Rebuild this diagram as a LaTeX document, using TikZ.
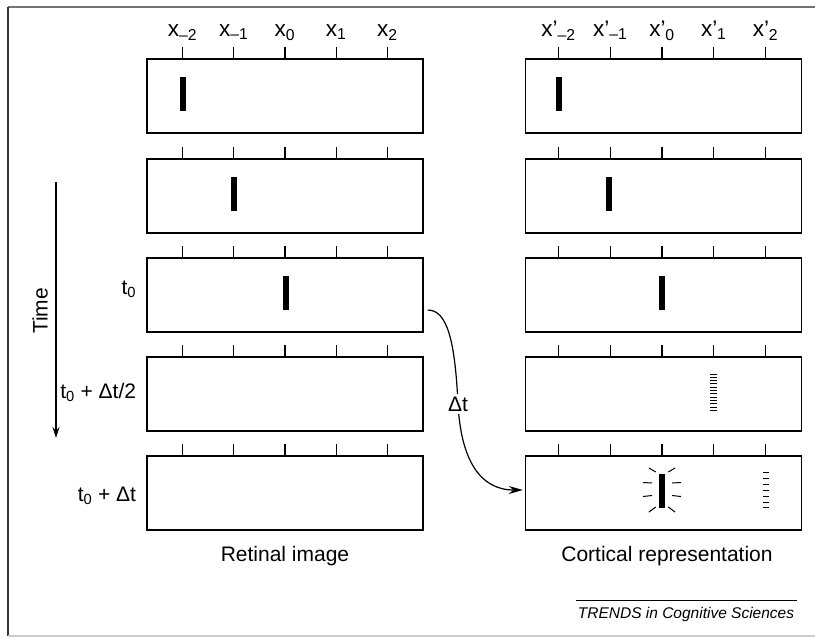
\documentclass[tikz,border=0pt]{standalone}
\usepackage{fontspec}
\setmainfont{Liberation Sans}
\usetikzlibrary{arrows.meta, calc}

\begin{document}
\begin{tikzpicture}[x=1pt, y=-1pt,
    panel/.style={draw, line width=1.4pt, minimum width=276pt,
                  minimum height=74pt, inner sep=0pt},
    tickmark/.style={line width=1.2pt},
    stim/.style={fill=black, minimum width=6pt, minimum height=34pt, inner sep=0pt},
    faint/.style={line width=1pt},
    lbl/.style={font=\fontsize{21}{25}\selectfont, inner sep=1pt},
    poslbl/.style={font=\fontsize{22.5}{26}\selectfont, inner sep=1pt, anchor=base}
  ]
    \useasboundingbox (0,0) rectangle (815,638);
    \draw[line width=1.3pt, black!55] (815,7) -- (8,7);
    \draw[line width=1.3pt, black!80] (8,7) -- (8,636);
    \draw[line width=1.3pt, black!20] (8,636) -- (815,636);

    % panels with their ticks
    \foreach \k/\y in {1/96, 2/196, 3/295, 4/394, 5/493} {
      \node[panel] (L\k) at (285,\y) {};
      \node[panel] (R\k) at (663.5,\y) {};
      \foreach \i in {-2,...,2} {
        \draw[tickmark] ($(L\k.north)+(\i*51.25,0)$) -- ++(0,-11);
        \draw[tickmark] ($(R\k.north)+(\i*51.75-1.5,0)$) -- ++(0,-11);
      }
    }

    % position labels
    \foreach \i/\s [count=\n] in {-2/--2, -1/--1, 0/0, 1/1, 2/2} {
      \node[poslbl] (lx\n) at ($(L1.north)+(\i*51.25,-22)$) {x\textsubscript{\s}};
      \node[poslbl] (rx\n) at ($(R1.north)+(\i*51.75-1.5,-22)$) {x'\textsubscript{\s}};
    }

    % stimulus bars
    \node[stim] (s1) at ($(L1.center)+(-102,-2)$) {};
    \node[stim] (s2) at ($(L2.center)+(-51,-2)$) {};
    \node[stim] (s3) at ($(L3.center)+(0.5,-2)$) {};
    \node[stim] (s4) at ($(R1.center)+(-104.5,-2)$) {};
    \node[stim] (s5) at ($(R2.center)+(-54.5,-2)$) {};
    \node[stim] (s6) at ($(R3.center)+(-1.5,-2)$) {};
    \node[stim] (s7) at ($(R5.center)+(-1.5,-2)$) {};

    % fading traces
    \foreach \j in {0,...,11}
      \draw[faint] ($(R4.center)+(46.5,-20+\j*3.3)$) -- ++(7,0);
    \foreach \j in {0,...,6}
      \draw[faint] ($(R5.center)+(99.5,-20.5+\j*5.9)$) -- ++(6,0);

    % flash round the bar
    \foreach \sx in {-1,1} {
      \draw[faint] ($(s7)+(\sx*13,-23)$) -- ($(s7)+(\sx*6.3,-19)$);
      \draw[faint] ($(s7)+(\sx*19,-8.5)$) -- ($(s7)+(\sx*10,-8)$);
      \draw[faint] ($(s7)+(\sx*19,5.5)$) -- ($(s7)+(\sx*10,4.5)$);
      \draw[faint] ($(s7)+(\sx*13,21)$) -- ($(s7)+(\sx*6.3,16)$);
    }

    % delay
    \coordinate (dtstart) at ($(L3.east)+(4,15)$);
    \coordinate (dtmid) at (458,404);
    \draw[line width=1.2pt, -{Stealth[length=14pt, width=8pt]}] (dtstart)
      .. controls (447,310) and (455,340) .. (dtmid)
      .. controls (461,460) and (480,490) .. ($(R5.west)+(-2,-3)$);
    \node[lbl, fill=white, inner sep=3pt] (dt) at (dtmid) {Δt};

    % time axis
    \draw[line width=1.2pt, -{Stealth[length=11pt, width=7pt]}] (56,182) -- (56,438);
    \node[lbl, rotate=90] (time) at (40,311) {Time};

    \node[lbl, anchor=mid east] (t0) at ($(L3.west)+(-9,-3.5)$) {t\textsubscript{0}};
    \node[lbl, anchor=mid east] (t1) at ($(L4.west)+(-9,1.5)$) {t\textsubscript{0} + Δt/2};
    \node[lbl, anchor=mid east] (t2) at ($(L5.west)+(-9,5.5)$) {t\textsubscript{0} + Δt};

    \node[lbl, anchor=base] (ret) at ($(L5.south)+(0,31)$) {Retinal image};
    \node[lbl, anchor=base] (cor) at ($(R5.south)+(3.5,31)$) {Cortical representation};

    \draw[line width=0.8pt] (576,600) -- (797,600);
    \node[font=\fontsize{15.5}{18}\selectfont\itshape, anchor=base] (src) at (686,618)
      {TRENDS in Cognitive Sciences};
\end{tikzpicture}
\end{document}
